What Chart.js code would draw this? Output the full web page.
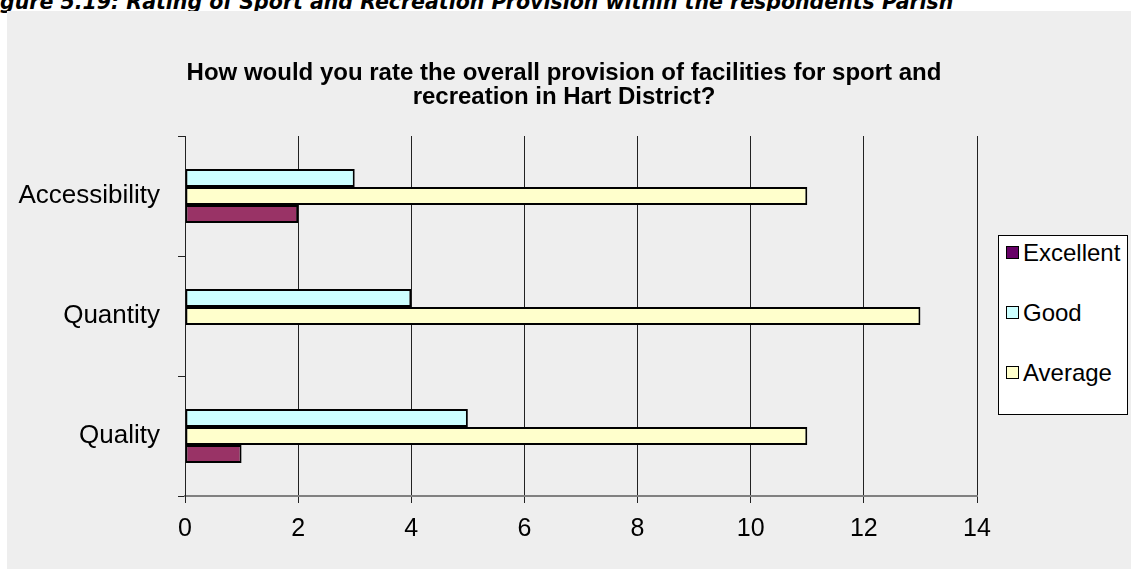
<!DOCTYPE html>
<html>
<head>
<meta charset="utf-8">
<script src="https://cdn.jsdelivr.net/npm/chart.js@4.4.0/dist/chart.umd.min.js"></script>
<style>
    body { margin: 0; background: #ffffff; width: 1131px; height: 569px; overflow: hidden; position: relative; }
    #caption { position: absolute; left: -21px; top: -10px; white-space: nowrap;
        font-family: "DejaVu Sans", sans-serif; font-weight: bold; font-style: italic; font-size: 20.5px; color: #000; }
    #panel { position: absolute; left: 7px; top: 11px; width: 1124px; height: 558px; background: #eeeeee; }
    #leyenda { position: absolute; left: 991px; top: 224px; width: 130px; height: 180px;
        background: #ffffff; border: 1px solid #000; box-sizing: border-box;
        font-family: "Liberation Sans", Arial, sans-serif; font-size: 24px; color: #000; }
    .item { position: absolute; left: 7px; height: 28px; line-height: 28px; white-space: nowrap; }
    .caja { display: inline-block; width: 11px; height: 11px; border: 1.5px solid #000; vertical-align: middle; margin-right: 4px; position: relative; top: -2px; }
</style>
</head>
<body>
<div id="caption">Figure 5.19: Rating of Sport and Recreation Provision within the respondents Parish</div>
<div id="panel">
    <canvas id="grafica" width="1124" height="558"></canvas>
    <div id="leyenda"></div>
</div>
<script>
// datos de la grafica
var categorias = ["Accessibility", "Quantity", "Quality"];
var seriesNombres = ["Good", "Average", "Excellent"];
var valoresGood = [3, 4, 5];
var valoresAverage = [11, 13, 11];
var valoresExcellent = [2, 0, 1];
var coloresBarras = ["#CCFFFF", "#FFFFCC", "#993366"];
var coloresLeyenda = { "Excellent": "#660066", "Good": "#CCFFFF", "Average": "#FFFFCC" };
var ordenLeyenda = ["Excellent", "Good", "Average"];
var ticksX = [0, 2, 4, 6, 8, 10, 12, 14];
var titulo = ["How would you rate the overall provision of facilities for sport and", "recreation in Hart District?"];

var valores = [valoresGood, valoresAverage, valoresExcellent];
var datasets = [];
for (var i = 0; i < seriesNombres.length; i++) {
    datasets.push({
        label: seriesNombres[i],
        data: valores[i],
        backgroundColor: coloresBarras[i],
        borderColor: "#000000",
        borderWidth: 2,
        borderSkipped: false,
        categoryPercentage: 0.45,
        barPercentage: 1.0
    });
}

var fuente = "'Liberation Sans', Arial, sans-serif";

var ctx = document.getElementById("grafica").getContext("2d");
var miGrafico = new Chart(ctx, {
    type: "bar",
    data: { labels: categorias, datasets: datasets },
    options: {
        indexAxis: "y",
        responsive: false,
        animation: false,
        devicePixelRatio: 1,
        // el titulo se centra en todo el ancho, el hueco de la leyenda lo ocupa un eje vacio
        layout: { padding: { left: 0, right: 10, top: 0, bottom: 23 } },
        plugins: {
            legend: { display: false },
            tooltip: { enabled: false },
            title: {
                display: true,
                text: titulo,
                color: "#000000",
                font: { family: fuente, size: 24, weight: "bold", lineHeight: 1.0 },
                padding: { top: 50, bottom: 27 }
            }
        },
        scales: {
            x: {
                min: 0,
                max: 14,
                afterBuildTicks: function (scale) {
                    scale.ticks = ticksX.map(function (v) { return { value: v }; });
                },
                afterFit: function (scale) { scale.height = 50; },
                ticks: { color: "#000000", font: { family: fuente, size: 25 }, padding: 11 },
                grid: { color: "#222222", lineWidth: 1, tickLength: 7 },
                border: { color: "#808080", width: 2 }
            },
            y: {
                afterFit: function (scale) { scale.width = 178; },
                ticks: { color: "#000000", font: { family: fuente, size: 26 }, padding: 18 },
                grid: { drawOnChartArea: false, offset: true, tickLength: 7, color: "#222222" },
                border: { color: "#222222", width: 1 }
            },
            hueco: {
                type: "linear",
                axis: "y",
                position: "right",
                afterFit: function (scale) { scale.width = 144; },
                ticks: { display: false },
                grid: { display: false },
                border: { display: false }
            }
        }
    }
});

// leyenda con recuadro blanco
var leyenda = document.getElementById("leyenda");
for (var k = 0; k < ordenLeyenda.length; k++) {
    var item = document.createElement("div");
    item.className = "item";
    item.style.top = (3 + k * 60) + "px";
    var caja = document.createElement("span");
    caja.className = "caja";
    caja.style.background = coloresLeyenda[ordenLeyenda[k]];
    item.appendChild(caja);
    item.appendChild(document.createTextNode(ordenLeyenda[k]));
    leyenda.appendChild(item);
}
</script>
</body>
</html>
